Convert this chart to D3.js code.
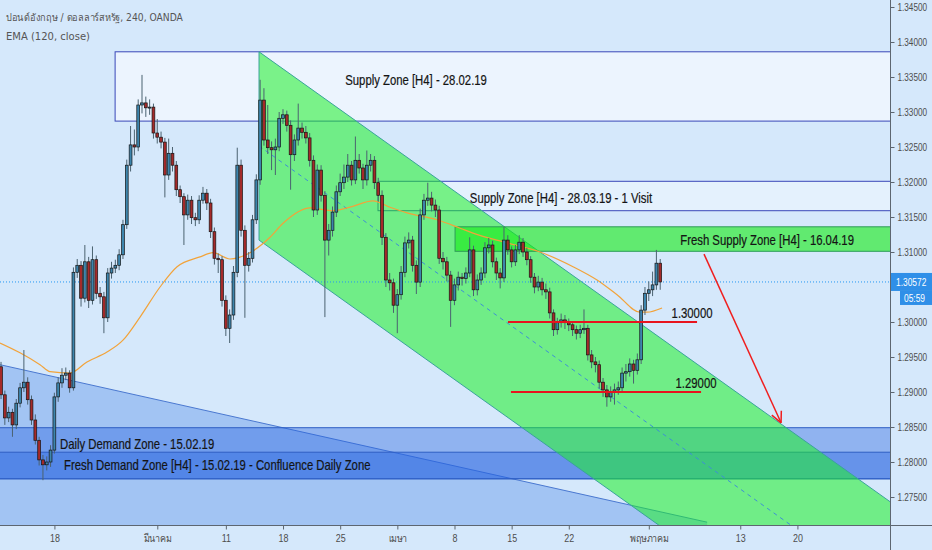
<!DOCTYPE html>
<html>
<head>
<meta charset="utf-8">
<script src="https://cdn.jsdelivr.net/npm/d3@7"></script>
<style>
  body { margin: 0; background: #d5e8fb; }
  svg { display: block; }
  .zone-label { font-family: 'Liberation Sans', Arial, sans-serif; font-size: 14px; fill: #141414; stroke: #141414; stroke-width: 0.2px; }
  .axis text { font-family: 'Liberation Sans', Arial, sans-serif; font-size: 10.5px; fill: #4d4d4d; }
  .head { font-family: 'DejaVu Sans', 'Noto Sans', sans-serif; font-size: 10px; fill: #555; }
  .tag { font-family: 'Liberation Sans', Arial, sans-serif; font-size: 10.5px; fill: #fff; }
</style>
</head>
<body>
<svg id="chart"></svg>
<script>
// GBP/USD, candles at 8h steps (3 per trading day)
// day 0 = Mon 18 Feb 2019, counted in trading days
const candleStartDay = -4.67;
const firstOpen = 1.2936;

const closes = [
  1.2896, 1.2863, 1.2871, 1.2853, 1.2884, 1.2906, 1.2914, 1.2889, 1.2860, 1.2831,
  1.2803, 1.2796, 1.2800, 1.2817, 1.2893, 1.2913, 1.2924, 1.2927, 1.2906, 1.3071,
  1.3081, 1.3034, 1.3086, 1.3031, 1.3089, 1.3041, 1.3036, 1.3006, 1.3070, 1.3077,
  1.3081, 1.3096, 1.3139, 1.3224, 1.3253, 1.3250, 1.3310, 1.3313, 1.3306, 1.3307,
  1.3270, 1.3264, 1.3257, 1.3210, 1.3241, 1.3224, 1.3189, 1.3179, 1.3153, 1.3174,
  1.3149, 1.3146, 1.3174, 1.3184, 1.3170, 1.3129, 1.3091, 1.3089, 1.3031, 1.2991,
  1.3010, 1.3071, 1.3224, 1.3131, 1.3081, 1.3091, 1.3146, 1.3203, 1.3317, 1.3260,
  1.3249, 1.3246, 1.3250, 1.3291, 1.3296, 1.3281, 1.3239, 1.3260, 1.3277, 1.3271,
  1.3263, 1.3231, 1.3160, 1.3217, 1.3181, 1.3117, 1.3131, 1.3157, 1.3186, 1.3199,
  1.3207, 1.3224, 1.3203, 1.3231, 1.3220, 1.3203, 1.3224, 1.3231, 1.3199, 1.3181,
  1.3121, 1.3060, 1.3056, 1.3024, 1.3039, 1.3071, 1.3113, 1.3117, 1.3081, 1.3057,
  1.3153, 1.3174, 1.3177, 1.3167, 1.3160, 1.3091, 1.3086, 1.3067, 1.3031, 1.3053,
  1.3064, 1.3062, 1.3070, 1.3103, 1.3046, 1.3060, 1.3070, 1.3106, 1.3110, 1.3086,
  1.3070, 1.3063, 1.3117, 1.3103, 1.3086, 1.3103, 1.3114, 1.3100, 1.3089, 1.3064,
  1.3050, 1.3057, 1.3046, 1.3043, 1.3013, 1.2989, 1.2999, 1.3003, 1.2999, 1.2996,
  1.2989, 1.2984, 1.2989, 1.2991, 1.2953, 1.2943, 1.2939, 1.2914, 1.2903, 1.2893,
  1.2900, 1.2903, 1.2906, 1.2927, 1.2929, 1.2940, 1.2931, 1.2946, 1.3017, 1.3041,
  1.3046, 1.3053, 1.3084, 1.30572
];

const highs = [
  1.2943, 1.2902, 1.2879, 1.2876, 1.2890, 1.2913, 1.2960, 1.2921, 1.2895, 1.2868,
  1.2836, 1.2810, 1.2808, 1.2824, 1.2899, 1.2921, 1.2934, 1.2935, 1.2931, 1.3078,
  1.3090, 1.3087, 1.3110, 1.3093, 1.3108, 1.3095, 1.3050, 1.3043, 1.3077, 1.3086,
  1.3089, 1.3104, 1.3146, 1.3232, 1.3280, 1.3275, 1.3318, 1.3353, 1.3322, 1.3318,
  1.3312, 1.3290, 1.3272, 1.3263, 1.3262, 1.3250, 1.3230, 1.3195, 1.3184, 1.3182,
  1.3180, 1.3156, 1.3181, 1.3193, 1.3190, 1.3176, 1.3135, 1.3098, 1.3094, 1.3038,
  1.3018, 1.3080, 1.3249, 1.3232, 1.3138, 1.3100, 1.3153, 1.3211, 1.3346, 1.3334,
  1.3310, 1.3258, 1.3262, 1.3300, 1.3304, 1.3302, 1.3288, 1.3268, 1.3312, 1.3285,
  1.3280, 1.3270, 1.3238, 1.3225, 1.3224, 1.3187, 1.3140, 1.3165, 1.3195, 1.3212,
  1.3225, 1.3240, 1.3230, 1.3265, 1.3240, 1.3226, 1.3245, 1.3240, 1.3237, 1.3206,
  1.3188, 1.3127, 1.3070, 1.3062, 1.3047, 1.3080, 1.3122, 1.3128, 1.3123, 1.3088,
  1.3162, 1.3183, 1.3199, 1.3186, 1.3175, 1.3166, 1.3100, 1.3093, 1.3073, 1.3062,
  1.3072, 1.3070, 1.3078, 1.3121, 1.3109, 1.3068, 1.3078, 1.3114, 1.3120, 1.3116,
  1.3092, 1.3077, 1.3136, 1.3124, 1.3108, 1.3110, 1.3124, 1.3120, 1.3106, 1.3094,
  1.3070, 1.3066, 1.3063, 1.3055, 1.3049, 1.3018, 1.3006, 1.3012, 1.3010, 1.3005,
  1.3001, 1.2995, 1.2996, 1.3018, 1.2996, 1.2960, 1.2950, 1.2945, 1.2920, 1.2910,
  1.2908, 1.2912, 1.2915, 1.2935, 1.2940, 1.2948, 1.2946, 1.2955, 1.3024, 1.3050,
  1.3058, 1.3072, 1.3103, 1.3090
];

const lows = [
  1.2890, 1.2853, 1.2857, 1.2836, 1.2847, 1.2878, 1.2900, 1.2882, 1.2853, 1.2825,
  1.2795, 1.2774, 1.2788, 1.2793, 1.2812, 1.2886, 1.2906, 1.2917, 1.2899, 1.2902,
  1.3063, 1.3022, 1.3028, 1.3020, 1.3025, 1.3033, 1.3026, 1.2984, 1.3000, 1.3062,
  1.3070, 1.3074, 1.3090, 1.3133, 1.3215, 1.3238, 1.3244, 1.3298, 1.3293, 1.3296,
  1.3262, 1.3255, 1.3248, 1.3178, 1.3203, 1.3215, 1.3180, 1.3170, 1.3110, 1.3146,
  1.3140, 1.3137, 1.3140, 1.3169, 1.3160, 1.3120, 1.3082, 1.3070, 1.3022, 1.2980,
  1.2970, 1.3003, 1.3064, 1.3122, 1.3006, 1.3072, 1.3085, 1.3140, 1.3196, 1.3252,
  1.3240, 1.3217, 1.3210, 1.3244, 1.3283, 1.3272, 1.3189, 1.3230, 1.3252, 1.3262,
  1.3255, 1.3222, 1.3150, 1.3153, 1.3172, 1.3007, 1.3095, 1.3122, 1.3150, 1.3180,
  1.3190, 1.3200, 1.3195, 1.3197, 1.3212, 1.3190, 1.3195, 1.3215, 1.3190, 1.3172,
  1.3110, 1.3050, 1.3045, 1.3013, 1.2984, 1.3032, 1.3064, 1.3105, 1.3072, 1.3040,
  1.3050, 1.3146, 1.3166, 1.3158, 1.3150, 1.3083, 1.3075, 1.3058, 1.2993, 1.3024,
  1.3045, 1.3052, 1.3055, 1.3064, 1.3037, 1.3038, 1.3053, 1.3063, 1.3098, 1.3078,
  1.3060, 1.3048, 1.3057, 1.3096, 1.3078, 1.3080, 1.3097, 1.3093, 1.3081, 1.3056,
  1.3041, 1.3044, 1.3038, 1.3033, 1.3005, 1.2980, 1.2982, 1.2992, 1.2990, 1.2987,
  1.2980, 1.2975, 1.2977, 1.2983, 1.2945, 1.2934, 1.2928, 1.2905, 1.2893, 1.2879,
  1.2886, 1.2882, 1.2896, 1.2900, 1.2915, 1.2922, 1.2912, 1.2925, 1.2940, 1.3010,
  1.3030, 1.3037, 1.3046, 1.3046
];

// EMA(120)
const emaDays = [-4.76, -3.01, -1.26, -0.38, 1.36, 2.85, 4.60, 6.00, 7.49, 9.24,
  10.73, 12.74, 13.88, 15.36, 17.11, 18.86, 20.00, 22.36, 24.37, 25.86,
  27.87, 29.36, 30.85, 33.47, 35.49, 36.62, 39.60, 42.48, 45.37, 47.47,
  49.22, 51.23, 51.84, 53.16];
const emaValues = [1.2970, 1.2956, 1.2939, 1.2929, 1.2927, 1.2943, 1.2957, 1.2974, 1.3007, 1.3050,
  1.3079, 1.3093, 1.3099, 1.3090, 1.3099, 1.3121, 1.3141, 1.3163, 1.3159, 1.3164,
  1.3173, 1.3164, 1.3156, 1.3146, 1.3134, 1.3127, 1.3113, 1.3100, 1.3079, 1.3060,
  1.3039, 1.3014, 1.3014, 1.3020];

const lastPrice = 1.30572;
const countdown = '05:59';

// 1.30500 sits under the last price tag, so it is not listed
const priceTicks = [1.275, 1.28, 1.285, 1.29, 1.295, 1.30, 1.31, 1.315, 1.32, 1.325, 1.33, 1.335, 1.34, 1.345];
const dateTickDays = [0, 9, 15, 20, 25, 30, 35, 40, 45, 52, 60, 65];
const dateTickLabels = ['18', 'มีนาคม', '11', '18', '25', 'เมษา', '8', '15', '22', 'พฤษภาคม', '13', '20'];

// drawings
const supplyZones = [
  { label: 'Supply Zone [H4] - 28.02.19', from: 5.31, top: 1.3386, bottom: 1.3287, labelDay: 31.64, labelPrice: 1.3346 },
  { label: 'Supply Zone [H4] - 28.03.19 - 1 Visit', from: 28.31, top: 1.3201, bottom: 1.3159, labelDay: 44.32, labelPrice: 1.3177 }
];
const freshSupply = { label: 'Fresh Supply Zone [H4] - 16.04.19', from: 35.05, top: 1.3136, bottom: 1.3101, labelDay: 62.35, labelPrice: 1.3117 };
const dailyDemand = { label: 'Daily Demand Zone - 15.02.19', top: 1.2849, bottom: 1.2776, labelDay: 0.49, labelPrice: 1.2826 };
const freshDemand = { label: 'Fresh Demand Zone [H4] - 15.02.19 - Confluence Daily Zone', top: 1.2814, bottom: 1.2776, labelDay: 0.84, labelPrice: 1.2795 };

const channelDays = [17.9, 80];
const channelTops = [1.3386, 1.2663];
const channelWidth = 0.0269;

const wedgeDays = [-4.76, 57.1];
const wedgePrices = [1.2939, 1.2714];

const levels = [1.30, 1.29];
const levelFrom = [39.68, 39.94];
const levelTo = [56.22, 56.57];

const arrowDays = [56.83, 63.57];
const arrowPrices = [1.3097, 1.2856];

// ---- layout
const W = 932, H = 550;
const plotW = 890, plotH = 525;

const x = d3.scaleLinear().domain([-4.76, 73.1]).range([0, plotW]);
const y = d3.scaleLinear().domain([1.271, 1.346]).range([plotH, 0]);

// squeeze Liberation Sans horizontally towards the narrow face in the screenshot
function condense(sel, k) {
  sel.each(function () {
    const t = d3.select(this);
    const tx = +t.attr('x') || 0;
    t.attr('x', tx / k).attr('transform', `scale(${k},1)`);
  });
}

const svg = d3.select('#chart').attr('width', W).attr('height', H);
svg.append('rect').attr('width', W).attr('height', H).attr('fill', '#d5e8fb');

svg.append('defs').append('clipPath').attr('id', 'plot')
  .append('rect').attr('width', plotW).attr('height', plotH);

const g = svg.append('g').attr('clip-path', 'url(#plot)');

// blue wedge under the left
const wedge = wedgeDays.map((d, i) => [d, wedgePrices[i]]);
g.append('path')
  .attr('d', d3.area().x(d => x(d[0])).y0(plotH).y1(d => y(d[1]))(wedge))
  .attr('fill', 'rgba(70,130,230,0.35)');
g.append('path')
  .attr('d', d3.line().x(d => x(d[0])).y(d => y(d[1]))(wedge))
  .attr('stroke', '#4a78d0').attr('fill', 'none');

// demand zones
[dailyDemand, freshDemand].forEach(z => {
  g.append('rect')
    .attr('x', -2).attr('width', plotW + 4)
    .attr('y', y(z.top)).attr('height', y(z.bottom) - y(z.top))
    .attr('fill', 'rgba(40,100,225,0.4)')
    .attr('stroke', '#2f5fc4').attr('stroke-width', 1);
});

// supply zones
supplyZones.forEach((z, i) => {
  g.append('rect')
    .attr('x', x(z.from)).attr('width', plotW - x(z.from) + 5)
    .attr('y', y(z.top)).attr('height', y(z.bottom) - y(z.top))
    .attr('fill', i === 0 ? 'rgba(245,250,255,0.7)' : 'rgba(240,247,255,0.55)')
    .attr('stroke', '#3a48b8').attr('stroke-width', 1);
});

// descending channel
const chan = [
  [channelDays[0], channelTops[0]],
  [channelDays[1], channelTops[1]],
  [channelDays[1], channelTops[1] - channelWidth],
  [channelDays[0], channelTops[0] - channelWidth]
];
g.append('path')
  .attr('d', d3.line().x(d => x(d[0])).y(d => y(d[1]))(chan) + 'Z')
  .attr('fill', 'rgba(30,240,40,0.55)')
  .attr('stroke', '#3aa39a').attr('stroke-width', 1);
g.append('line')
  .attr('x1', x(channelDays[0])).attr('y1', y(channelTops[0] - channelWidth / 2))
  .attr('x2', x(channelDays[1])).attr('y2', y(channelTops[1] - channelWidth / 2))
  .attr('stroke', '#3d8fd6').attr('stroke-dasharray', '4,4');

// fresh supply zone
g.append('rect')
  .attr('x', x(freshSupply.from)).attr('width', plotW - x(freshSupply.from) + 5)
  .attr('y', y(freshSupply.top)).attr('height', y(freshSupply.bottom) - y(freshSupply.top))
  .attr('fill', 'rgba(20,235,20,0.6)')
  .attr('stroke', '#2e9b58');

// EMA
g.append('path')
  .datum(emaDays.map((d, i) => [d, emaValues[i]]))
  .attr('d', d3.line().curve(d3.curveMonotoneX).x(d => x(d[0])).y(d => y(d[1])))
  .attr('fill', 'none').attr('stroke', '#f2a33a').attr('stroke-width', 1.2);

// last price dotted line
g.append('line')
  .attr('x1', 0).attr('x2', plotW)
  .attr('y1', y(lastPrice)).attr('y2', y(lastPrice))
  .attr('stroke', '#2196f3').attr('stroke-dasharray', '1,2');

// candles
const candles = closes.map((c, i) => {
  const o = i === 0 ? firstOpen : closes[i - 1];
  return {
    day: candleStartDay + i / 3,
    o, c,
    h: Math.max(highs[i], o, c),
    l: Math.min(lows[i], o, c)
  };
});
const bodyW = 2.8;
const cg = g.append('g');
cg.selectAll('line').data(candles).join('line')
  .attr('x1', d => x(d.day)).attr('x2', d => x(d.day))
  .attr('y1', d => y(d.h)).attr('y2', d => y(d.l))
  .attr('stroke', '#4b6270').attr('stroke-width', 1);
cg.selectAll('rect').data(candles).join('rect')
  .attr('x', d => x(d.day) - bodyW / 2)
  .attr('width', bodyW)
  .attr('y', d => y(Math.max(d.o, d.c)))
  .attr('height', d => Math.max(1, Math.abs(y(d.o) - y(d.c))))
  .attr('fill', d => d.c >= d.o ? '#3d85ad' : '#a52a2a')
  .attr('stroke', '#151515').attr('stroke-width', 0.7);

// red levels
levels.forEach((p, i) => {
  g.append('line')
    .attr('x1', x(levelFrom[i])).attr('x2', x(levelTo[i]))
    .attr('y1', y(p)).attr('y2', y(p))
    .attr('stroke', '#e8141e').attr('stroke-width', 2);
  g.append('text').attr('class', 'zone-label')
    .attr('x', x(levelTo[i]) - 5).attr('y', y(p) - 4)
    .attr('text-anchor', 'middle')
    .text(p.toFixed(5));
});

// red arrow
const ax1 = x(arrowDays[0]), ay1 = y(arrowPrices[0]);
const ax2 = x(arrowDays[1]), ay2 = y(arrowPrices[1]);
g.append('line').attr('x1', ax1).attr('y1', ay1).attr('x2', ax2).attr('y2', ay2)
  .attr('stroke', '#f01e1e').attr('stroke-width', 1.5);
const ang = Math.atan2(ay2 - ay1, ax2 - ax1);
[-0.45, 0.45].forEach(a => {
  g.append('line')
    .attr('x1', ax2).attr('y1', ay2)
    .attr('x2', ax2 - 12 * Math.cos(ang + a)).attr('y2', ay2 - 12 * Math.sin(ang + a))
    .attr('stroke', '#f01e1e').attr('stroke-width', 1.5);
});

// zone labels
[...supplyZones, freshSupply].forEach(z => {
  g.append('text').attr('class', 'zone-label')
    .attr('x', x(z.labelDay)).attr('y', y(z.labelPrice))
    .attr('text-anchor', 'middle').attr('dominant-baseline', 'central')
    .text(z.label);
});
[dailyDemand, freshDemand].forEach(z => {
  g.append('text').attr('class', 'zone-label')
    .attr('x', x(z.labelDay)).attr('y', y(z.labelPrice))
    .attr('dominant-baseline', 'central')
    .text(z.label);
});
condense(g.selectAll('.zone-label'), 0.81);

// axes
svg.append('line').attr('x1', plotW + 0.5).attr('x2', plotW + 0.5).attr('y1', 0).attr('y2', H)
  .attr('stroke', '#5d6670');
svg.append('line').attr('x1', 0).attr('x2', W).attr('y1', plotH + 0.5).attr('y2', plotH + 0.5)
  .attr('stroke', '#5d6670');

const yAxis = svg.append('g').attr('class', 'axis')
  .attr('transform', `translate(${plotW + 0.5},0)`)
  .call(d3.axisRight(y).tickValues(priceTicks).tickSize(4).tickPadding(3).tickFormat(d => d.toFixed(5)));
const xAxis = svg.append('g').attr('class', 'axis')
  .attr('transform', `translate(0,${plotH + 0.5})`)
  .call(d3.axisBottom(x).tickValues(dateTickDays).tickSize(4).tickFormat((d, i) => dateTickLabels[i]));
[yAxis, xAxis].forEach(a => {
  a.select('.domain').remove();
  a.selectAll('.tick line').attr('stroke', '#5d6670');
});
xAxis.selectAll('.tick text').attr('dy', '0.95em');
condense(yAxis.selectAll('.tick text'), 0.78);
condense(xAxis.selectAll('.tick text'), 0.85);

// last price tag
const ly = y(lastPrice);
svg.append('rect').attr('x', plotW + 1).attr('y', ly - 9).attr('width', W - plotW).attr('height', 18)
  .attr('fill', '#2f8fe8');
svg.append('rect').attr('x', plotW + 10).attr('y', ly + 9).attr('width', W - plotW - 10).attr('height', 14)
  .attr('fill', '#2f8fe8');
svg.append('text').attr('class', 'tag').attr('x', plotW + 6).attr('y', ly).attr('dominant-baseline', 'central')
  .text(lastPrice.toFixed(5));
svg.append('text').attr('class', 'tag').attr('x', plotW + 14).attr('y', ly + 16).attr('dominant-baseline', 'central')
  .text(countdown);
condense(svg.selectAll('.tag'), 0.8);

// header
const h1 = svg.append('text').attr('class', 'head').attr('x', 6).attr('y', 21).text('ปอนด์อังกฤษ / ดอลลาร์สหรัฐ, 240, OANDA');
svg.append('text').attr('class', 'head').attr('x', 6).attr('y', 40).text('EMA (120, close)');
condense(h1, 0.92);
</script>
</body>
</html>
